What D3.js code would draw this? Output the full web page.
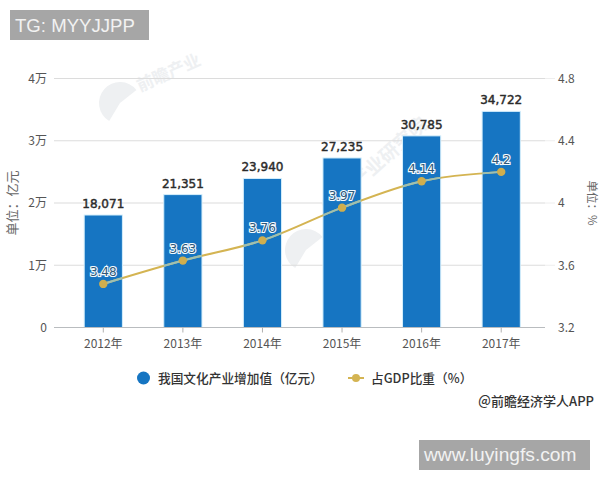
<!DOCTYPE html>
<html>
<head>
<meta charset="utf-8">
<script src="https://cdn.jsdelivr.net/npm/d3@7"></script>
<style>
  html, body { margin: 0; padding: 0; background: #fff; }
  text { font-family: "Noto Sans CJK SC", "Noto Sans", sans-serif; }
  .domain { display: none; }
</style>
</head>
<body>
<div id="chart"></div>
<script>
const years = ['2012年', '2013年', '2014年', '2015年', '2016年', '2017年'];
const addedValue = [18071, 21351, 23940, 27235, 30785, 34722];
const gdpShare = [3.48, 3.63, 3.76, 3.97, 4.14, 4.2];
const leftTicks = [0, 10000, 20000, 30000, 40000];
const rightTicks = [3.2, 3.6, 4, 4.4, 4.8];

const w = 600;
const h = 480;
const plotLeft = 54;
const plotRight = 545;
const plotTop = 78.5;
const plotBottom = 327.5;
const blue = '#1675c2';
const gold = '#d4b452';
const goldDot = '#cfae4e';

const svg = d3.select('#chart').append('svg')
  .attr('width', w)
  .attr('height', h)
  .style('display', 'block');

const xScale = d3.scaleBand().domain(years).range([63.5, 541]).paddingInner(0.52).paddingOuter(0.26);
const yScale = d3.scaleLinear().domain([0, 40000]).range([plotBottom, plotTop]);
const y2Scale = d3.scaleLinear().domain([3.2, 4.8]).range([plotBottom, plotTop]);
const cx = (d) => xScale(d) + xScale.bandwidth() / 2;

// faint watermark behind everything
const mark = svg.append('g').attr('fill', '#eef0f2');
const logoArc = d3.arc().innerRadius(0).outerRadius(21).startAngle(-2.6).endAngle(0.9);
mark.append('path').attr('transform', 'translate(120,103)').attr('d', logoArc());
mark.append('path').attr('transform', 'translate(306,250)').attr('d', logoArc());
mark.append('text').attr('transform', 'translate(140,92)rotate(-24)')
  .style('font-size', '17px').style('font-weight', 700).text('前瞻产业');
mark.append('text').attr('transform', 'translate(330,215)rotate(-42)')
  .style('font-size', '19px').style('font-weight', 700).text('前瞻产业研究院');

const yAxis = d3.axisLeft(yScale)
  .tickValues(leftTicks)
  .tickSize(0)
  .tickPadding(7)
  .tickFormat((d) => d === 0 ? '0' : d / 10000 + '万');
const y2Axis = d3.axisRight(y2Scale)
  .tickValues(rightTicks)
  .tickSize(0)
  .tickPadding(13)
  .tickFormat((d) => d);
const xAxis = d3.axisBottom(xScale).tickSize(5).tickPadding(7);

// grid lines sit under the bars
svg.append('g').selectAll('line')
  .data(leftTicks.slice(1))
  .enter()
  .append('line')
  .attr('x1', plotLeft)
  .attr('x2', plotRight)
  .attr('y1', (d) => yScale(d))
  .attr('y2', (d) => yScale(d))
  .attr('stroke', '#dcdcdc')
  .attr('stroke-width', 1.2);

svg.append('g').selectAll('line')
  .data(leftTicks.slice(1))
  .enter()
  .append('line')
  .attr('x1', plotRight)
  .attr('x2', 555)
  .attr('y1', (d) => yScale(d))
  .attr('y2', (d) => yScale(d))
  .attr('stroke', '#eeeeee');

svg.append('g').selectAll('rect')
  .data(addedValue)
  .enter()
  .append('rect')
  .attr('x', (d, i) => xScale(years[i]))
  .attr('y', (d) => yScale(d))
  .attr('width', xScale.bandwidth())
  .attr('height', (d) => plotBottom - yScale(d))
  .attr('fill', blue)
  .attr('stroke', '#d5effc')
  .attr('stroke-width', 1);

svg.append('line')
  .attr('x1', plotLeft)
  .attr('x2', plotRight)
  .attr('y1', plotBottom)
  .attr('y2', plotBottom)
  .attr('stroke', '#b9bcbf')
  .attr('stroke-width', 1.2);

const styleAxis = (g) => {
  g.selectAll('text').attr('fill', '#555').style('font-size', '12px');
  g.selectAll('line').attr('stroke', '#b0b0b0');
};

svg.append('g').attr('transform', 'translate(' + plotLeft + ',0)').call(yAxis).call(styleAxis);
svg.append('g').attr('transform', 'translate(' + plotRight + ',0)').call(y2Axis).call(styleAxis);
svg.append('g').attr('transform', 'translate(0,' + plotBottom + ')').call(xAxis).call(styleAxis);

svg.append('text')
  .attr('transform', 'translate(17,203)rotate(-90)')
  .attr('text-anchor', 'middle')
  .attr('fill', '#666')
  .style('font-size', '13px')
  .text('单位：亿元');

svg.append('text')
  .attr('transform', 'translate(588,203)rotate(90)')
  .attr('text-anchor', 'middle')
  .attr('fill', '#666')
  .style('font-size', '11.5px')
  .text('单位：%');

const line = d3.line()
  .x((d, i) => cx(years[i]))
  .y((d) => y2Scale(d))
  .curve(d3.curveCatmullRom.alpha(0.5));

svg.append('clipPath')
  .attr('id', 'barClip')
  .selectAll('rect')
  .data(addedValue)
  .enter()
  .append('rect')
  .attr('x', (d, i) => xScale(years[i]))
  .attr('y', (d) => yScale(d))
  .attr('width', xScale.bandwidth())
  .attr('height', (d) => plotBottom - yScale(d));

svg.append('path')
  .datum(gdpShare)
  .attr('d', line)
  .attr('fill', 'none')
  .attr('stroke', gold)
  .attr('stroke-width', 2);

// the line looks pale teal where it crosses the bars
svg.append('path')
  .datum(gdpShare)
  .attr('d', line)
  .attr('fill', 'none')
  .attr('stroke', '#9cc0b4')
  .attr('stroke-width', 2)
  .attr('clip-path', 'url(#barClip)');

svg.append('g').selectAll('circle')
  .data(gdpShare)
  .enter()
  .append('circle')
  .attr('cx', (d, i) => cx(years[i]))
  .attr('cy', (d) => y2Scale(d))
  .attr('r', 4.2)
  .attr('fill', goldDot);

svg.append('g').selectAll('text')
  .data(addedValue)
  .enter()
  .append('text')
  .attr('x', (d, i) => cx(years[i]))
  .attr('y', (d) => yScale(d) - 7)
  .attr('text-anchor', 'middle')
  .attr('fill', '#2b2b2b')
  .attr('stroke', '#2b2b2b')
  .attr('stroke-width', 0.45)
  .style('font-family', '"DejaVu Sans", sans-serif')
  .style('font-size', '12px')
  .text(d3.format(','));

svg.append('g').selectAll('text')
  .data(gdpShare)
  .enter()
  .append('text')
  .attr('x', (d, i) => cx(years[i]))
  .attr('y', (d) => y2Scale(d) - 8)
  .attr('text-anchor', 'middle')
  .attr('fill', '#2f5878')
  .attr('stroke', '#f4fbff')
  .attr('stroke-width', 2.2)
  .attr('paint-order', 'stroke')
  .style('font-family', '"DejaVu Sans", sans-serif')
  .style('font-size', '12px')
  .text((d) => d);

// legend
svg.append('circle').attr('cx', 143.5).attr('cy', 378).attr('r', 6.5).attr('fill', blue);
svg.append('text').attr('x', 158).attr('y', 382.5).attr('fill', '#333')
  .style('font-size', '12.7px').style('font-weight', 500).text('我国文化产业增加值（亿元）');
svg.append('line').attr('x1', 348).attr('x2', 364).attr('y1', 378).attr('y2', 378)
  .attr('stroke', gold).attr('stroke-width', 2);
svg.append('circle').attr('cx', 356).attr('cy', 378).attr('r', 4).attr('fill', gold);
svg.append('text').attr('x', 371).attr('y', 382.5).attr('fill', '#333')
  .style('font-size', '12.7px').style('font-weight', 500).text('占GDP比重（%）');

svg.append('text').attr('x', 594).attr('y', 406).attr('text-anchor', 'end').attr('fill', '#333')
  .style('font-size', '13px').style('font-weight', 500).text('＠前瞻经济学人APP');

// grey stamps on top of the picture
svg.append('rect').attr('x', 10).attr('y', 10).attr('width', 139).attr('height', 30).attr('fill', '#a6a6a6');
svg.append('text').attr('x', 15).attr('y', 32).attr('fill', '#f2f2f2')
  .style('font-family', '"Liberation Sans", sans-serif').style('font-size', '18.6px').text('TG: MYYJJPP');

svg.append('rect').attr('x', 419).attr('y', 440).attr('width', 171).attr('height', 30).attr('fill', '#a6a6a6');
svg.append('text').attr('x', 424).attr('y', 461).attr('fill', '#f2f2f2')
  .style('font-family', '"Liberation Sans", sans-serif').style('font-size', '19.2px').text('www.luyingfs.com');
</script>
</body>
</html>
